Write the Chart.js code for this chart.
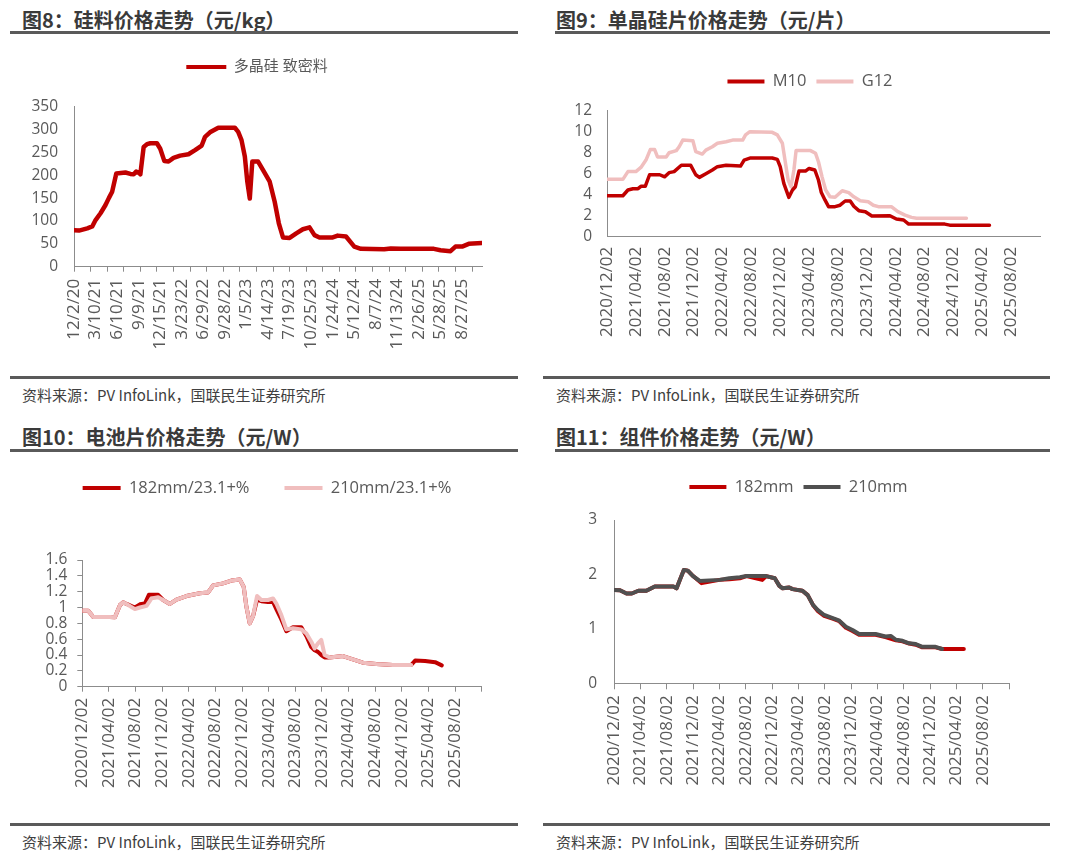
<!DOCTYPE html>
<html>
<head>
<meta charset="utf-8">
<script src="https://cdn.jsdelivr.net/npm/chart.js@4.4.1/dist/chart.umd.min.js"></script>
<style>
  body { margin: 0; background: #fff; width: 1080px; height: 861px; position: relative; overflow: hidden; font-family: "Noto Sans CJK SC", sans-serif; }
  .title { position: absolute; font-weight: bold; font-size: 20px; line-height: 20px; color: #3a3a3a; white-space: nowrap; }
  .rule { position: absolute; height: 3px; background: #5a5a5a; }
  .src { position: absolute; font-size: 15px; line-height: 15px; color: #404040; white-space: nowrap; }
  canvas { position: absolute; }
</style>
</head>
<body>
<div class="title" style="left:22px;top:10px">图8：硅料价格走势（元/kg）</div>
<div class="rule" style="left:10px;top:31px;width:508px"></div>
<div class="title" style="left:556px;top:10px">图9：单晶硅片价格走势（元/片）</div>
<div class="rule" style="left:555px;top:31px;width:495px"></div>
<div class="title" style="left:22px;top:427px">图10：电池片价格走势（元/W）</div>
<div class="rule" style="left:10px;top:449px;width:508px"></div>
<div class="title" style="left:556px;top:427px">图11：组件价格走势（元/W）</div>
<div class="rule" style="left:555px;top:449px;width:495px"></div>

<canvas id="c8" width="514" height="330" style="left:0;top:40px"></canvas>
<canvas id="c9" width="540" height="330" style="left:540px;top:40px"></canvas>
<canvas id="c10" width="534" height="375" style="left:0;top:440px"></canvas>
<canvas id="c11" width="517" height="375" style="left:540px;top:440px"></canvas>

<div class="rule" style="left:10px;top:376px;width:508px"></div>
<div class="src" style="left:22px;top:387px">资料来源：PV InfoLink，国联民生证券研究所</div>
<div class="rule" style="left:543px;top:376px;width:507px"></div>
<div class="src" style="left:556px;top:387px">资料来源：PV InfoLink，国联民生证券研究所</div>
<div class="rule" style="left:10px;top:823px;width:508px"></div>
<div class="src" style="left:22px;top:834px">资料来源：PV InfoLink，国联民生证券研究所</div>
<div class="rule" style="left:543px;top:823px;width:507px"></div>
<div class="src" style="left:556px;top:834px">资料来源：PV InfoLink，国联民生证券研究所</div>

<script>
// 图8 多晶硅 致密料（元/kg），横轴按周序号
const polyDates = ['12/2/20','3/10/21','6/10/21','9/9/21','12/15/21','3/23/22','6/29/22','9/28/22','1/5/23','4/14/23','7/19/23','10/25/23','1/24/24','5/12/24','8/7/24','11/13/24','2/26/25','5/28/25','8/27/25'];
const polyWeek = [0,3,8,11,13,16,19,21,23,25.5,31,34,36,37.5,39,40,42,44,46,50,52,54.5,57,60,64,69,73,77,79,82,87,97,99,101,103,104.5,106,107.5,111,114,118,121,123.5,126,130,134,138,142,145,148,156,159,164,169,173,187,191,197,209,217,221,227,230,234,238,246];
const polyPrice = [80,79,84,88,102,117,135,150,164,204,206,203,202,208,206,202,262,268,270,270,258,231,230,238,243,246,255,265,284,294,304,304,295,277,241,186,149,230,230,211,186,142,95,64,63,73,82,86,69,64,64,68,66,44,39,38,40,39,39,39,36,34,44,44,50,52];
const polyYTicks = [0,50,100,150,200,250,300,350];

// 图9-11 横轴：自 2020/12/02 起的月数
const monthLabels = ['2020/12/02','2021/04/02','2021/08/02','2021/12/02','2022/04/02','2022/08/02','2022/12/02','2023/04/02','2023/08/02','2023/12/02','2024/04/02','2024/08/02','2024/12/02','2025/04/02','2025/08/02'];

// 图9 单晶硅片（元/片）
const m10Month = [0,2.2,2.9,3.6,4.3,4.7,5.3,5.9,7.3,8.0,8.6,9.3,10.3,11.6,12.3,12.8,13.7,14.6,15.3,16.5,18.5,19.0,19.9,22.9,23.6,24.0,24.5,25.2,25.7,26.1,26.6,27.5,28.0,28.8,29.3,29.7,30.2,30.7,31.6,32.3,33.0,33.7,34.2,34.9,35.8,36.7,39.2,40.1,41.1,41.8,46.8,47.5,53.0];
const m10Price = [3.9,3.9,4.45,4.57,4.57,4.8,4.8,5.9,5.9,5.7,6.1,6.2,6.8,6.8,5.9,5.65,6.0,6.35,6.67,6.8,6.73,7.3,7.5,7.5,7.37,6.67,5.08,3.75,4.45,4.76,6.25,6.25,6.5,6.35,5.4,4.2,3.5,2.86,2.86,3.0,3.4,3.4,2.9,2.48,2.38,1.97,2.0,1.68,1.59,1.2,1.2,1.1,1.1];
const g12Month = [0,2.2,2.9,4.0,4.7,5.4,6.0,6.6,7.0,8.2,8.6,9.6,10.0,10.5,11.9,12.3,13.2,13.7,14.6,15.3,16.5,17.4,18.8,19.2,19.8,22.9,23.6,24.3,24.7,25.1,25.5,25.9,26.2,28.2,28.9,29.3,29.8,30.3,30.9,31.6,32.6,33.5,34.2,35.1,36.2,36.9,37.6,39.4,40.3,41.3,42.2,42.9,49.8];
const g12Price = [5.46,5.46,6.2,6.2,6.6,7.3,8.3,8.3,7.6,7.6,8.0,8.2,8.57,9.2,9.14,8.1,7.87,8.25,8.57,8.9,9.05,9.2,9.2,9.7,10.0,9.94,9.7,8.9,7.14,5.4,4.76,6.35,8.2,8.2,7.94,7.14,5.7,4.45,3.8,3.75,4.38,4.2,3.8,3.43,3.33,3.0,2.86,2.86,2.38,2.06,1.84,1.75,1.75];
const waferYTicks = [0,2,4,6,8,10,12];

// 图10 电池片（元/W）
const cell182Month = [0,0.9,1.65,4.15,4.9,5.65,6.15,6.65,7.9,8.65,9.4,10.0,10.4,11.4,12.15,13.15,14.15,15.65,17.65,18.9,19.65,21.15,22.4,23.65,24.25,24.65,25.15,25.65,26.25,26.9,27.9,28.65,29.15,29.9,30.65,31.65,32.9,33.65,34.4,34.9,35.4,35.9,36.4,37.15,39.15,40.65,42.15,44.15,46.65,49.4,50.0,51.5,53.0,54.0];
const cell182Price = [0.96,0.96,0.88,0.88,0.876,1.03,1.065,1.045,1.0,1.04,1.05,1.16,1.16,1.16,1.095,1.045,1.10,1.145,1.18,1.19,1.28,1.305,1.34,1.355,1.26,1.01,0.8,0.89,1.1,1.08,1.07,1.07,0.98,0.85,0.7,0.75,0.75,0.64,0.5,0.46,0.44,0.4,0.37,0.37,0.387,0.345,0.303,0.286,0.274,0.274,0.33,0.325,0.31,0.27];
const cell210Month = [0,0.9,1.65,4.15,4.9,5.65,6.15,6.65,7.9,8.65,9.65,10.4,11.4,12.15,13.15,14.15,15.65,17.65,18.9,19.65,21.15,22.4,23.65,24.25,24.65,25.15,25.65,26.25,26.9,27.9,28.65,29.15,29.9,30.65,31.65,32.9,33.65,34.4,34.9,35.4,35.9,36.4,37.15,39.15,40.65,42.15,44.15,46.65,49.4];
const cell210Price = [0.96,0.96,0.88,0.88,0.876,1.03,1.065,1.045,0.98,1.0,1.02,1.115,1.13,1.095,1.045,1.10,1.145,1.18,1.19,1.28,1.305,1.34,1.355,1.26,1.01,0.8,0.89,1.145,1.095,1.095,1.115,1.05,0.905,0.724,0.737,0.724,0.674,0.568,0.484,0.547,0.59,0.4,0.37,0.387,0.345,0.303,0.286,0.274,0.274];
const cellYTicks = [0,0.2,0.4,0.6,0.8,1,1.2,1.4,1.6];

// 图11 组件（元/W）
const mod182Month = [0,0.9,1.9,2.7,3.7,4.9,6.2,9.0,9.5,10.0,10.6,11.2,12.0,13.3,16.0,17.5,19.1,20.1,22.5,23.1,24.4,25.1,25.6,26.6,27.1,28.6,29.4,30.2,30.9,31.9,33.4,34.2,35.2,36.2,37.2,39.7,41.2,42.8,43.8,44.8,45.8,46.8,48.8,49.8,53.1];
const mod182Price = [1.715,1.71,1.65,1.65,1.70,1.70,1.78,1.78,1.745,1.9,2.08,2.07,1.97,1.84,1.9,1.91,1.93,1.97,1.90,1.97,1.93,1.79,1.745,1.76,1.73,1.70,1.62,1.44,1.33,1.24,1.18,1.14,1.02,0.96,0.89,0.89,0.85,0.79,0.77,0.73,0.71,0.66,0.66,0.63,0.63];
const mod210Month = [0,0.9,1.9,2.7,3.7,4.9,6.2,9.0,9.5,10.0,10.6,11.2,12.0,13.0,16.0,17.5,19.1,20.1,23.1,24.4,25.1,25.6,26.6,27.1,28.6,29.4,30.2,30.9,31.9,33.4,34.2,35.2,36.2,37.2,39.7,41.2,42.0,42.8,43.8,44.8,45.8,46.8,48.8,49.8];
const mod210Price = [1.715,1.71,1.65,1.65,1.70,1.70,1.78,1.78,1.745,1.9,2.08,2.07,1.97,1.88,1.9,1.93,1.95,1.97,1.97,1.93,1.79,1.745,1.76,1.73,1.70,1.62,1.44,1.35,1.255,1.19,1.15,1.04,0.98,0.906,0.906,0.86,0.87,0.80,0.78,0.735,0.72,0.67,0.67,0.63];
const modYTicks = [0,1,2,3];

const RED = '#c00000', PINK = '#f0bebe', GREY = '#505050';
const AXIS = '#8c8c8c', TXT = '#595959';
const NUM_FONT = '"Open Sans", "Noto Sans CJK SC", sans-serif';

const zip = (xs, ys) => xs.map((x, i) => ({ x, y: ys[i] }));

// 固定图例高度，便于对齐绘图区
const legendBox = {
  id: 'legendBox',
  beforeInit(chart, args, opts) {
    const fit = chart.legend.fit;
    chart.legend.fit = function () { fit.call(this); this.height = opts.height; };
  }
};

function series(label, xs, ys, color, width, order) {
  return {
    label, data: zip(xs, ys), borderColor: color, backgroundColor: color,
    borderWidth: width, pointRadius: 0, tension: 0, order: order || 0,
    borderJoinStyle: 'round', borderCapStyle: 'round'
  };
}

function makeChart(id, o) {
  return new Chart(document.getElementById(id), {
    type: 'line',
    data: { datasets: o.datasets },
    plugins: [legendBox],
    options: {
      responsive: false, animation: false,
      layout: { padding: { left: 0, right: 0, top: o.pt, bottom: 0 } },
      plugins: {
        legendBox: { height: o.legendH },
        tooltip: { enabled: false },
        legend: {
          display: true, position: 'top',
          labels: {
            boxWidth: o.boxW, boxHeight: 4, padding: o.legendPad, color: TXT,
            font: { family: NUM_FONT, size: o.legendFont },
            sort: (a, b) => a.datasetIndex - b.datasetIndex,
            generateLabels: chart => Chart.defaults.plugins.legend.labels.generateLabels(chart)
              .map(l => Object.assign(l, { lineWidth: 0 }))
          }
        }
      },
      scales: {
        x: {
          type: 'linear', min: 0, max: o.xMax,
          border: { display: true, color: AXIS, width: 1 },
          grid: {
            drawOnChartArea: false, drawTicks: o.xTickLen > 0, tickLength: o.xTickLen, tickWidth: 1,
            tickColor: c => (o.xMark(c.tick ? c.tick.value : 0) ? AXIS : 'rgba(0,0,0,0)')
          },
          afterBuildTicks: s => { s.ticks = o.xTicks.map(v => ({ value: v })); },
          ticks: {
            autoSkip: false, minRotation: 90, maxRotation: 90, padding: o.xPad,
            color: TXT, font: { family: NUM_FONT, size: 17 }, callback: o.xLabel
          },
          afterFit: s => { s.height = o.xAxisH; s.paddingLeft = 0; s.paddingRight = 0; }
        },
        y: {
          min: 0, max: o.yMax,
          border: { display: true, color: AXIS, width: 1 },
          grid: { drawOnChartArea: false, drawTicks: o.yTickLen > 0, tickLength: o.yTickLen, tickColor: AXIS },
          afterBuildTicks: s => { s.ticks = o.yTicks.map(v => ({ value: v })); },
          ticks: {
            autoSkip: false, padding: o.yPad, color: TXT, font: { family: NUM_FONT, size: 15.5 },
            callback: v => String(+v.toFixed(2))
          },
          afterFit: s => { s.width = o.yAxisW; s.paddingTop = 0; s.paddingBottom = 0; }
        },
        // 右侧留白（不显示），让图例居中位置与绘图区分开
        y2: {
          position: 'right', display: true,
          border: { display: false }, grid: { display: false }, ticks: { display: false },
          afterFit: s => { s.width = o.y2W; s.paddingTop = 0; s.paddingBottom = 0; }
        }
      }
    }
  });
}

// 图8：标签每 13 周，刻度线每 10 周
const polyTicks = [];
for (let w = 0; w <= 246; w++) if (w % 13 === 0 || w % 10 === 0) polyTicks.push(w);
makeChart('c8', {
  datasets: [series('多晶硅 致密料', polyWeek, polyPrice, RED, 4.5)],
  pt: 9.5, legendH: 57.2, legendPad: 10, legendFont: 15, boxW: 40,
  xMax: 246, xTicks: polyTicks, xTickLen: 5, xPad: 7, xAxisH: 103.3,
  xMark: v => v % 10 === 0,
  xLabel: v => (v % 13 === 0 ? polyDates[v / 13] : ''),
  yMax: 350, yTicks: polyYTicks, yAxisW: 74, y2W: 32, yTickLen: 0, yPad: 16
});

const monthTicks = [0,4,8,12,16,20,24,28,32,36,40,44,48,52,56,60];
const monthLabel = v => monthLabels[v / 4] || '';

makeChart('c9', {
  datasets: [
    series('M10', m10Month, m10Price, RED, 3.5),
    series('G12', g12Month, g12Price, PINK, 3.5)
  ],
  pt: 23.25, legendH: 47.45, legendPad: 10, legendFont: 16.5, boxW: 37,
  xMax: 60, xTicks: monthTicks, xTickLen: 0, xPad: 10, xAxisH: 133.3,
  xMark: () => false, xLabel: monthLabel,
  yMax: 12, yTicks: waferYTicks, yAxisW: 67, y2W: 40, yTickLen: 0, yPad: 15
});

makeChart('c10', {
  datasets: [
    series('182mm/23.1+%', cell182Month, cell182Price, RED, 4, 1),
    series('210mm/23.1+%', cell210Month, cell210Price, PINK, 4, 0)
  ],
  pt: 4.75, legendH: 115.25, legendPad: 35, legendFont: 16.5, boxW: 38,
  xMax: 60, xTicks: monthTicks, xTickLen: 5, xPad: 6, xAxisH: 128.3,
  xMark: () => true, xLabel: monthLabel,
  yMax: 1.6, yTicks: cellYTicks, yAxisW: 82.3, y2W: 52.3, yTickLen: 5, yPad: 10
});

makeChart('c11', {
  datasets: [
    series('182mm', mod182Month, mod182Price, RED, 4, 1),
    series('210mm', mod210Month, mod210Price, GREY, 4, 0)
  ],
  pt: 28.75, legendH: 51.25, legendPad: 10, legendFont: 16.5, boxW: 37,
  xMax: 60, xTicks: monthTicks, xTickLen: 6, xPad: 6, xAxisH: 131.7,
  xMark: () => true, xLabel: monthLabel,
  yMax: 3, yTicks: modYTicks, yAxisW: 74, y2W: 47.7, yTickLen: 0, yPad: 17
});
</script>
</body>
</html>
